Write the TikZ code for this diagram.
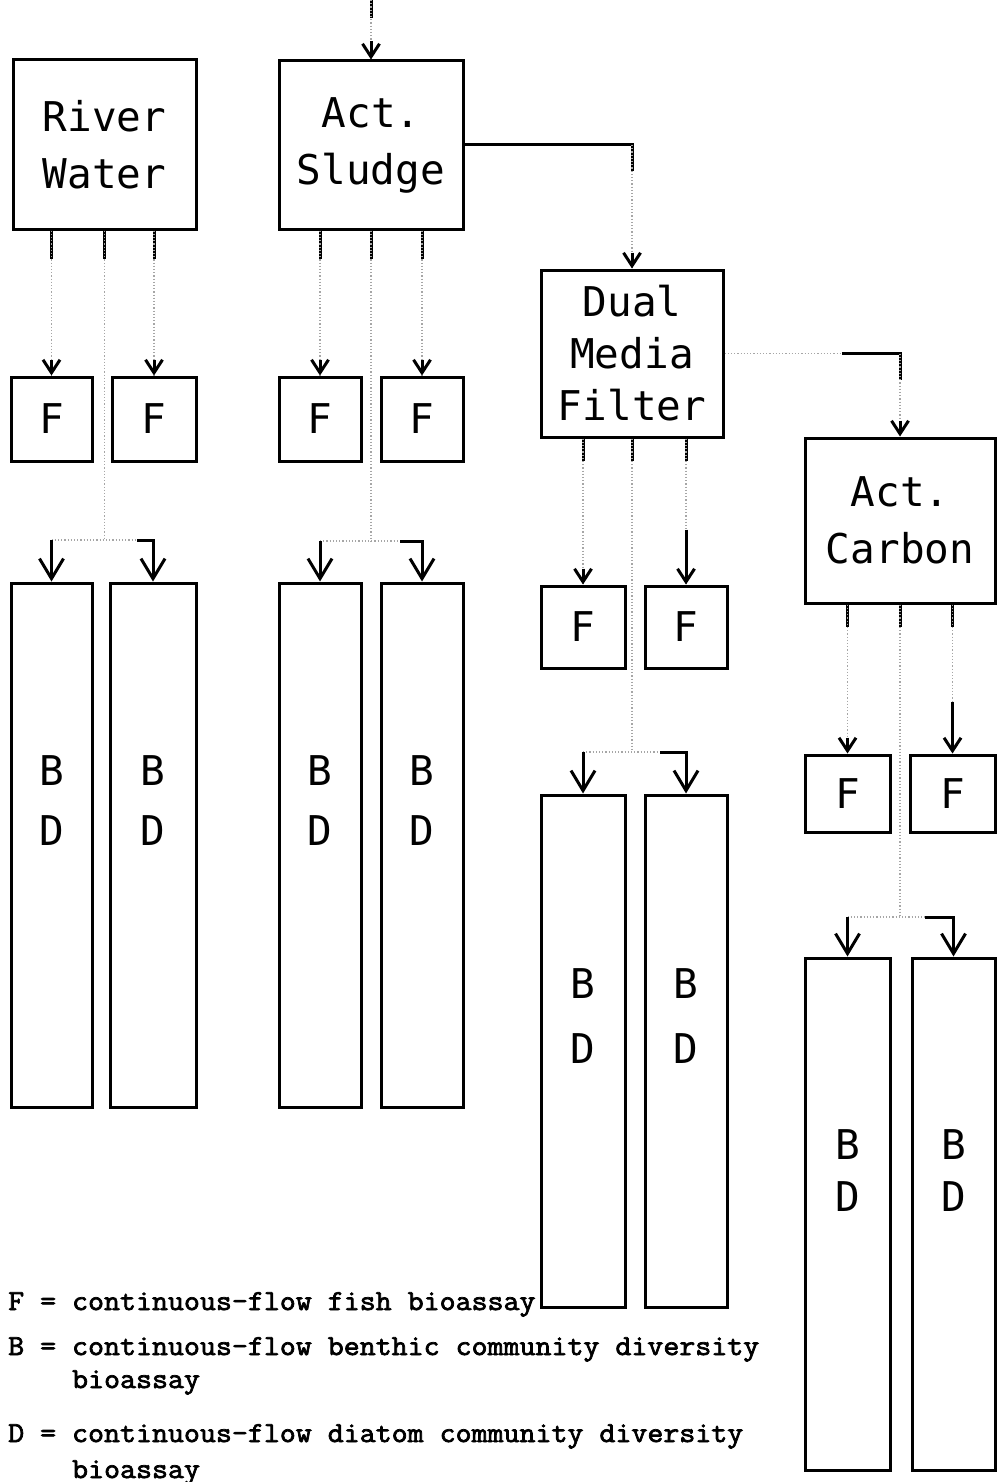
\documentclass[tikz,border=0pt]{standalone}
\usepackage{fontspec}
\usetikzlibrary{arrows.meta}
\newfontfamily\boxfont{DejaVu Sans Mono}
\newfontfamily\keyfont[FakeStretch=1.07,FakeBold=2.5]{Latin Modern Mono}

\begin{document}
\begin{tikzpicture}[x=1pt,y=-1pt,
  unit/.style={draw,line width=3pt,inner sep=0pt,align=center,
    font=\boxfont\fontsize{41}{57}\selectfont},
  lbl/.style={inner sep=0pt,font=\boxfont\fontsize{41}{57}\selectfont},
  stub/.style={line width=3pt},
  faint/.style={line width=1.2pt,black!35,dotted},
  arr/.style={line width=3pt,-{Straight Barb[length=13pt,width=17pt]}},
  bigarr/.style={line width=3pt,-{Straight Barb[length=20pt,width=24pt]}},
  key/.style={inner sep=0pt,anchor=base west,
    font=\keyfont\fontsize{29}{34}\selectfont}]
\useasboundingbox (0,0) rectangle (998,1482);
% treatment units
\node[unit,minimum width=183pt,minimum height=169pt] (rw) at (104.5,144.5) {River\\Water};
\node[unit,minimum width=184pt,minimum height=168pt] (as) at (371,145) {Act.\\Sludge};
\node[unit,minimum width=182pt,minimum height=167pt,
  font=\boxfont\fontsize{41}{52}\selectfont] (dmf) at (632,353.5) {Dual\\Media\\Filter};
\node[unit,minimum width=190pt,minimum height=165pt] (ac) at (900,520.5) {Act.\\Carbon};
% fish bioassays
\node[unit,minimum width=81pt,minimum height=84pt] (f1) at (51.5,419) {F};
\node[unit,minimum width=84pt,minimum height=84pt] (f2) at (154,419) {F};
\node[unit,minimum width=82pt,minimum height=84pt] (f3) at (320,419) {F};
\node[unit,minimum width=82pt,minimum height=84pt] (f4) at (422,419) {F};
\node[unit,minimum width=84pt,minimum height=82pt] (f5) at (583,627) {F};
\node[unit,minimum width=82pt,minimum height=82pt] (f6) at (686,627) {F};
\node[unit,minimum width=85pt,minimum height=77pt] (f7) at (847.5,793.5) {F};
\node[unit,minimum width=85pt,minimum height=77pt] (f8) at (952.5,793.5) {F};
% benthic / diatom columns
\node[unit,minimum width=81pt,minimum height=524pt] (b1) at (51.5,845) {};
\node[unit,minimum width=86pt,minimum height=524pt] (b2) at (153,845) {};
\node[unit,minimum width=82pt,minimum height=524pt] (b3) at (320,845) {};
\node[unit,minimum width=82pt,minimum height=524pt] (b4) at (422,845) {};
\node[unit,minimum width=84pt,minimum height=512pt] (b5) at (583,1051) {};
\node[unit,minimum width=82pt,minimum height=512pt] (b6) at (686,1051) {};
\node[unit,minimum width=85pt,minimum height=512pt] (b7) at (847.5,1214) {};
\node[unit,minimum width=83pt,minimum height=512pt] (b8) at (953.5,1214) {};
\node[lbl] (b1b) at ([yshift=-189pt]b1.north) {B};
\node[lbl] (b1d) at ([yshift=-249pt]b1.north) {D};
\node[lbl] (b2b) at ([yshift=-189pt]b2.north) {B};
\node[lbl] (b2d) at ([yshift=-249pt]b2.north) {D};
\node[lbl] (b3b) at ([yshift=-189pt]b3.north) {B};
\node[lbl] (b3d) at ([yshift=-249pt]b3.north) {D};
\node[lbl] (b4b) at ([yshift=-189pt]b4.north) {B};
\node[lbl] (b4d) at ([yshift=-249pt]b4.north) {D};
\node[lbl] (b5b) at ([yshift=-190pt]b5.north) {B};
\node[lbl] (b5d) at ([yshift=-255pt]b5.north) {D};
\node[lbl] (b6b) at ([yshift=-190pt]b6.north) {B};
\node[lbl] (b6d) at ([yshift=-255pt]b6.north) {D};
\node[lbl] (b7b) at ([yshift=-188pt]b7.north) {B};
\node[lbl] (b7d) at ([yshift=-240pt]b7.north) {D};
\node[lbl] (b8b) at ([yshift=-188pt]b8.north) {B};
\node[lbl] (b8d) at ([yshift=-240pt]b8.north) {D};
% inflow and the line between the units
\coordinate (inflow) at (371,0);
\draw[stub] (inflow) -- ++(0,18);
\draw[faint] (inflow) -- (as.north);
\draw[arr] ([yshift=18pt]as.north) -- (as.north);
\draw[stub] (as.east) -- (dmf.north |- as.east) -- ++(0,26);
\draw[faint] (dmf.north |- as.east) -- (dmf.north);
\draw[arr] ([yshift=16pt]dmf.north) -- (dmf.north);
\coordinate (dmfac) at (842,353.5);
\draw[faint] (dmf.east) -- (dmfac);
\draw[stub] (dmfac) -- (ac.north |- dmfac) -- ++(0,26);
\draw[faint] (ac.north |- dmfac) -- (ac.north);
\draw[arr] ([yshift=16pt]ac.north) -- (ac.north);
% river water
\draw[stub] (f1.north |- rw.south) -- ++(0,28);
\draw[stub] (rw.south) -- ++(0,28);
\draw[stub] (f2.north |- rw.south) -- ++(0,28);
\draw[faint] (f1.north |- rw.south) -- (f1.north);
\draw[faint] (f2.north |- rw.south) -- (f2.north);
\draw[arr] ([yshift=16pt]f1.north) -- (f1.north);
\draw[arr] ([yshift=16pt]f2.north) -- (f2.north);
\coordinate (rwj) at (104.5,540);
\coordinate (rwr) at (137,540);
\draw[faint] (rw.south) -- (rwj);
\draw[faint] (b1.north |- rwj) -- (rwr);
\draw[bigarr] (b1.north |- rwj) -- (b1.north);
\draw[bigarr] (rwr) -| (b2.north);
% activated sludge
\draw[stub] (f3.north |- as.south) -- ++(0,28);
\draw[stub] (as.south) -- ++(0,28);
\draw[stub] (f4.north |- as.south) -- ++(0,28);
\draw[faint] (f3.north |- as.south) -- (f3.north);
\draw[faint] (f4.north |- as.south) -- (f4.north);
\draw[arr] ([yshift=16pt]f3.north) -- (f3.north);
\draw[arr] ([yshift=16pt]f4.north) -- (f4.north);
\coordinate (asj) at (371,541);
\coordinate (asr) at (400,541);
\draw[faint] (as.south) -- (asj);
\draw[faint] (b3.north |- asj) -- (asr);
\draw[bigarr] (b3.north |- asj) -- (b3.north);
\draw[bigarr] (asr) -| (b4.north);
% dual media filter
\draw[stub] (f5.north |- dmf.south) -- ++(0,22);
\draw[stub] (dmf.south) -- ++(0,22);
\draw[stub] (f6.north |- dmf.south) -- ++(0,22);
\draw[faint] (f5.north |- dmf.south) -- (f5.north);
\draw[faint] (f6.north |- dmf.south) -- (f6.north);
\draw[arr] ([yshift=16pt]f5.north) -- (f5.north);
\draw[arr] ([yshift=55pt]f6.north) -- (f6.north);
\coordinate (dmfj) at (632,752);
\coordinate (dmfr) at (660,752);
\draw[faint] (dmf.south) -- (dmfj);
\draw[faint] (b5.north |- dmfj) -- (dmfr);
\draw[bigarr] (b5.north |- dmfj) -- (b5.north);
\draw[bigarr] (dmfr) -| (b6.north);
% activated carbon
\draw[stub] (f7.north |- ac.south) -- ++(0,22);
\draw[stub] (ac.south) -- ++(0,22);
\draw[stub] (f8.north |- ac.south) -- ++(0,22);
\draw[faint] (f7.north |- ac.south) -- (f7.north);
\draw[faint] (f8.north |- ac.south) -- (f8.north);
\draw[arr] ([yshift=16pt]f7.north) -- (f7.north);
\draw[arr] ([yshift=52pt]f8.north) -- (f8.north);
\coordinate (acj) at (900,917);
\coordinate (acr) at (925,917);
\draw[faint] (ac.south) -- (acj);
\draw[faint] (b7.north |- acj) -- (acr);
\draw[bigarr] (b7.north |- acj) -- (b7.north);
\draw[bigarr] (acr) -| (b8.north);
% key
\node[key] (keyF) at (8,1310) {F = continuous-flow fish bioassay};
\node[key] (keyB) at (8,1355) {B = continuous-flow benthic community diversity};
\node[key] (keyB2) at (8,1388) {\phantom{B = }bioassay};
\node[key] (keyD) at (8,1442) {D = continuous-flow diatom community diversity};
\node[key] (keyD2) at (8,1478) {\phantom{D = }bioassay};
\end{tikzpicture}
\end{document}
